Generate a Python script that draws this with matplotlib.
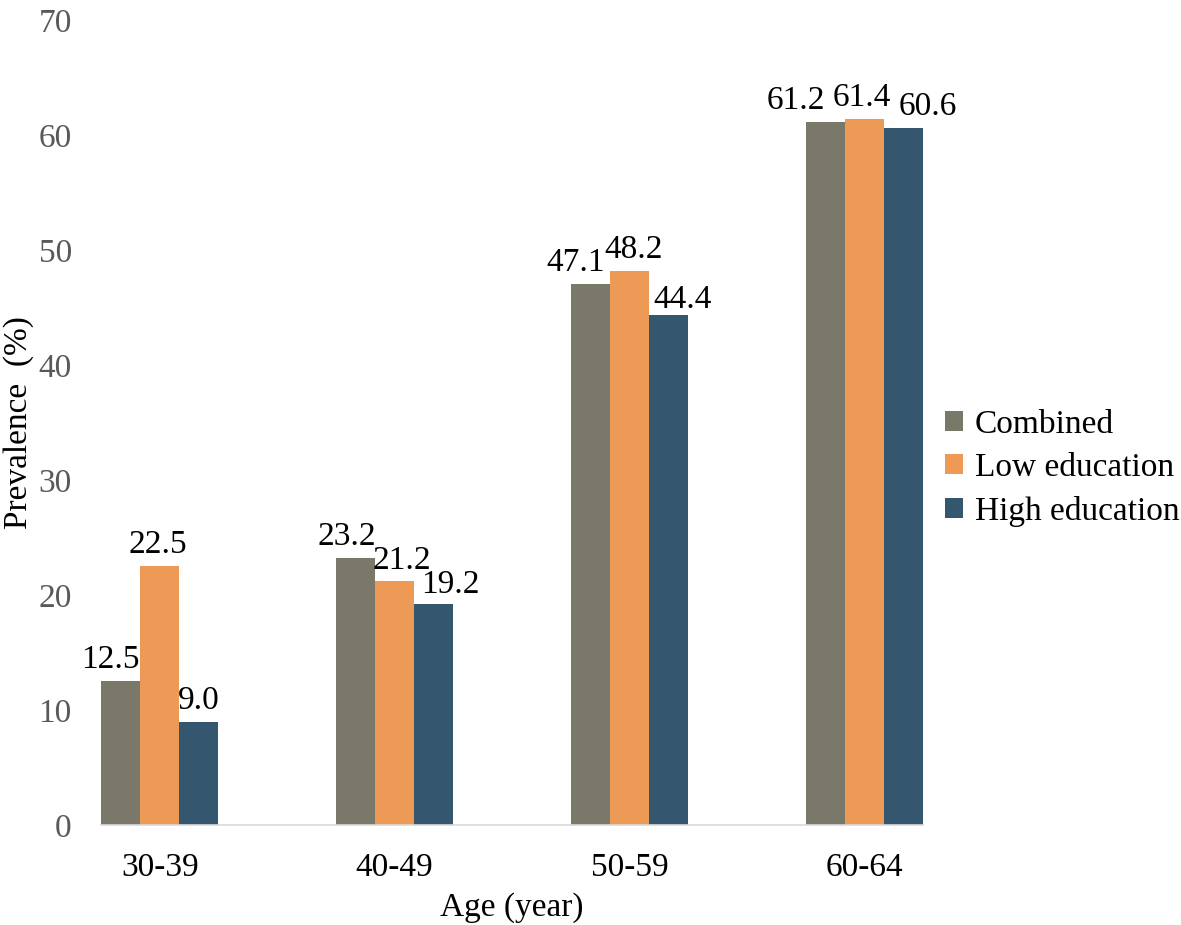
import matplotlib
matplotlib.use("Agg")
import matplotlib.pyplot as plt
import numpy as np

categories = ["30-39", "40-49", "50-59", "60-64"]
series_names = ["Combined", "Low education", "High education"]
combined = [12.5, 23.2, 47.1, 61.2]
low_edu = [22.5, 21.2, 48.2, 61.4]
high_edu = [9.0, 19.2, 44.4, 60.6]
colors = ["#7A7868", "#EC9A55", "#34566F"]

# manual nudges (pixels) of the data labels, per series then per category
label_dx = [[-10, -9, -15, -29], [-2, 7, 4, -2], [0, 17, 14, 24]]
label_dy = [[0, 0, 0, 0], [0, -1, 0, 0], [0, -2, -6, 0]]

plt.rcParams['font.family'] = ['Liberation Serif', 'DejaVu Serif']

fig = plt.figure(figsize=(11.81, 9.25), dpi=100)
ax = fig.add_axes([0.0855, 0.108, 0.696, 0.870])

x = np.arange(len(categories))
w = 1/6
for i, (vals, name, c) in enumerate(zip([combined, low_edu, high_edu], series_names, colors)):
    pos = x + (i - 1) * w
    ax.bar(pos, vals, width=w, color=c, label=name, zorder=2)
    for j, (p, v) in enumerate(zip(pos, vals)):
        ax.annotate(f"{v:.1f}", (p, v), xytext=(label_dx[i][j], 13 + label_dy[i][j]),
                    textcoords="offset pixels",
                    ha="center", va="baseline", fontsize=24, color="black")

ax.set_xlim(-0.25, 3.25)
ax.set_ylim(0, 70)
ax.set_yticks(range(0, 71, 10))
ax.set_xticks(x)
ax.set_xticklabels(categories)
ax.tick_params(axis='y', length=0, pad=21, labelsize=24, labelcolor="#595959")
ax.tick_params(axis='x', length=0, pad=20, labelsize=24, labelcolor="black")
for s in ["top", "right", "left"]:
    ax.spines[s].set_visible(False)
ax.spines["bottom"].set_color("#D9D9D9")
ax.spines["bottom"].set_linewidth(1.2)

fig.text(512 / 1181, 1 - 908 / 925, "Age (year)", ha="center", va="center", fontsize=24)
fig.text(19 / 1181, 1 - 423 / 925, "Prevalence  (%)", rotation=90,
         ha="center", va="center", fontsize=24)

fig.legend(loc="center left", bbox_to_anchor=(0.7745, 0.494), frameon=False,
           fontsize=24, handlelength=0.55, handleheight=0.55, handletextpad=0.35,
           labelspacing=0.38)

fig.savefig("out.png", dpi=100)
